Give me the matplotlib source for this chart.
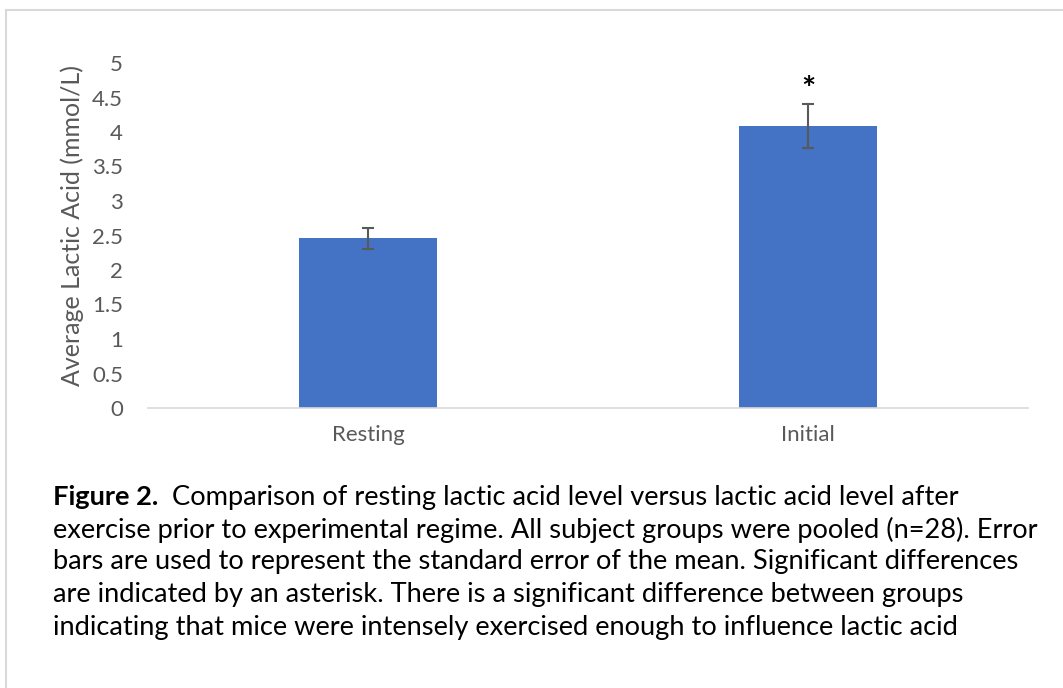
import matplotlib
matplotlib.use("Agg")
import matplotlib.pyplot as plt
from matplotlib.lines import Line2D

categories = ["Resting", "Initial"]
values = [2.46, 4.09]
errors = [0.15, 0.32]
significant = [False, True]
y_ticks = [0, 0.5, 1, 1.5, 2, 2.5, 3, 3.5, 4, 4.5, 5]
y_tick_labels = ["0", "0.5", "1", "1.5", "2", "2.5", "3", "3.5", "4", "4.5", "5"]
y_label = "Average Lactic Acid (mmol/L)"
caption_bold = "Figure 2."
caption_lines = [
    "  Comparison of resting lactic acid level versus lactic acid level after",
    "exercise prior to experimental regime. All subject groups were pooled (n=28). Error",
    "bars are used to represent the standard error of the mean. Significant differences",
    "are indicated by an asterisk. There is a significant difference between groups",
    "indicating that mice were intensely exercised enough to influence lactic acid",
]

W, H = 1063, 688
fig = plt.figure(figsize=(W / 100, H / 100), dpi=100)
plt.rcParams['font.family'] = ['Lato', 'DejaVu Sans']

# outer frame (top and left)
fig.add_artist(Line2D([6 / W, 6 / W], [0, 1 - 10 / H], transform=fig.transFigure, color="#d9d9d9", lw=1.5))
fig.add_artist(Line2D([6 / W, 1], [1 - 10 / H, 1 - 10 / H], transform=fig.transFigure, color="#d9d9d9", lw=1.5))

ax = fig.add_axes([148 / W, 1 - 408 / H, 880 / W, 345 / H])
x = list(range(len(categories)))
ax.bar(x, values, width=0.314, color="#4472C4", zorder=2)
ax.errorbar(x, values, yerr=errors, fmt="none", ecolor="#595959", elinewidth=1.5,
            capsize=4, capthick=1.5, zorder=3)
for xi, v, e, s in zip(x, values, errors, significant):
    if s:
        ax.text(xi, v + e - 0.02, "*", ha="center", va="bottom", fontsize=24,
                fontweight="bold", color="black")
ax.set_xlim(-0.5, len(categories) - 0.5)
ax.set_ylim(0, 5)
ax.set_yticks(y_ticks)
ax.set_yticklabels(y_tick_labels)
ax.set_xticks(x)
ax.set_xticklabels(categories)
ax.tick_params(axis="both", length=0, labelsize=16, labelcolor="#595959")
ax.tick_params(axis="y", pad=18)
ax.tick_params(axis="x", pad=12)
for side in ["top", "right", "left"]:
    ax.spines[side].set_visible(False)
ax.spines["bottom"].set_color("#d9d9d9")
ax.spines["bottom"].set_linewidth(1.2)
ax.set_ylabel(y_label, fontsize=18, color="#595959")
ax.yaxis.set_label_coords(-64 / 880, 0.53)

# caption
fs = 19.6
y0 = 1 - 497 / H
dy = 32.5 / H
fig.canvas.draw()
r = fig.canvas.get_renderer()
tb = fig.text(53 / W, y0, caption_bold, fontsize=fs, fontweight="bold", color="black", va="center")
bb = tb.get_window_extent(renderer=r)
fig.text(bb.x1 / W, y0, caption_lines[0], fontsize=fs, color="black", va="center")
for i, line in enumerate(caption_lines[1:], start=1):
    fig.text(53 / W, y0 - i * dy, line, fontsize=fs, color="black", va="center")

fig.savefig("out.png", dpi=100)
